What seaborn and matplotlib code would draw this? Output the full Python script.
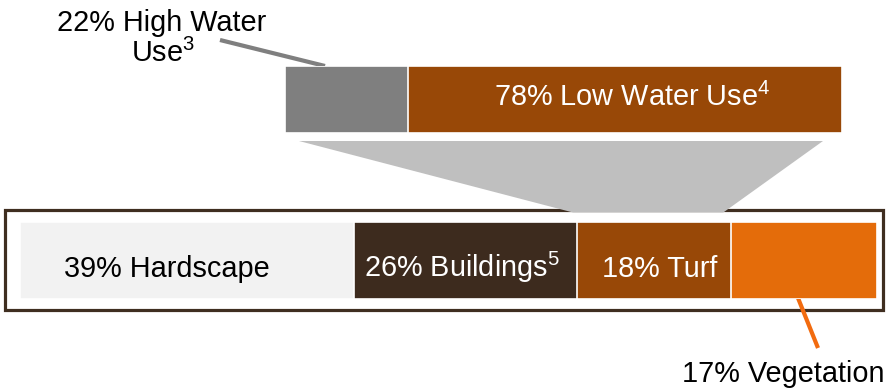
import numpy as np
import pandas as pd
import matplotlib
matplotlib.use("Agg")
import matplotlib.pyplot as plt
from matplotlib.patches import Rectangle, Polygon
import seaborn as sns

# Site surface breakdown (percent of total area)
site_categories = ["Hardscape", "Buildings", "Turf", "Vegetation"]
site_shares = [39, 26, 18, 17]
site_labels = ["39% Hardscape", r"26% Buildings$^{\mathrm{5}}$", "18% Turf", ""]
site_colors = ["#f2f2f2", "#3d2b1e", "#984807", "#e46c0a"]
site_text_colors = ["black", "white", "white", "white"]
site_label_nudge = [-2.4, -0.4, 0.7, 0.0]

# Split of the turf area by water use
turf_categories = ["High Water Use", "Low Water Use"]
turf_shares = [22, 78]
turf_labels = ["", r"78% Low Water Use$^{\mathrm{4}}$"]
turf_colors = ["#7f7f7f", "#984807"]
turf_label_nudge = [0.0, 1.3]

sns.set_theme(style="white")
plt.rcParams["font.family"] = ["Liberation Sans", "DejaVu Sans"]
plt.rcParams["mathtext.fontset"] = "custom"
plt.rcParams["mathtext.rm"] = "Liberation Sans"
plt.rcParams["mathtext.it"] = "Liberation Sans:italic"
plt.rcParams["mathtext.bf"] = "Liberation Sans:bold"

W, H = 886, 388
FS = 20.8
fig = plt.figure(figsize=(W / 100, H / 100), dpi=100)
fig.patch.set_facecolor("white")

# overlay in pixel units for frame, connector and callouts
ov = fig.add_axes([0, 0, 1, 1])
ov.set_xlim(0, W)
ov.set_ylim(H, 0)
ov.axis("off")


def px_axes(left, top, right, bottom):
    return fig.add_axes([left / W, 1 - bottom / H, (right - left) / W, (bottom - top) / H])


def stacked_bar(ax, names, shares, colors):
    ends = np.cumsum(shares)
    df = pd.DataFrame({"segment": names, "end": ends, "row": ["all"] * len(names)})
    sns.barplot(data=df, x="end", y="row", hue="segment", hue_order=names[::-1],
                palette=dict(zip(names, colors)), dodge=False, width=1.0,
                orient="h", legend=False, ax=ax, errorbar=None, saturation=1,
                edgecolor="white", linewidth=1.2)
    ax.set_xlim(0, 100)
    ax.set_ylim(0.5, -0.5)
    ax.axis("off")
    return ends


def bar_labels(ax, shares, ends, labels, colors, nudges, y_frac):
    for share, end, lab, col, nd in zip(shares, ends, labels, colors, nudges):
        if lab:
            ax.text(end - share / 2 + nd, y_frac, lab, transform=ax.get_xaxis_transform(),
                    ha="center", va="baseline", fontsize=FS, color=col)


ax_site = px_axes(20, 222, 877, 299)
site_ends = stacked_bar(ax_site, site_categories, site_shares, site_colors)
bar_labels(ax_site, site_shares, site_ends, site_labels, site_text_colors, site_label_nudge, 0.29)

ax_turf = px_axes(285, 66, 842, 133)
turf_ends = stacked_bar(ax_turf, turf_categories, turf_shares, turf_colors)
bar_labels(ax_turf, turf_shares, turf_ends, turf_labels, ["white", "white"], turf_label_nudge, 0.41)


def to_px(ax, x):
    dx, _ = ax.transData.transform((x, 0))
    return dx


# frame around the site bar
ov.add_patch(Rectangle((5.5, 209.5), 878, 100, fill=False, edgecolor="#3f2e20",
                       linewidth=2.3, zorder=1))

# connector from turf breakdown to the turf segment
turf_start = to_px(ax_site, site_ends[2] - site_shares[2])
turf_end = to_px(ax_site, site_ends[2])
top_l = to_px(ax_turf, 0) + 14
top_r = to_px(ax_turf, 100) - 19
ov.add_patch(Polygon([(top_l, 141), (top_r, 141), (turf_end - 8, 212.5), (turf_start - 4, 212.5)],
                     closed=True, facecolor="#bfbfbf", edgecolor="none", zorder=2))

# callouts
ov.plot([220, 325], [40, 66], color="#7f7f7f", linewidth=3.0, solid_capstyle="butt", zorder=3)
ov.text(162, 31, f"{turf_shares[0]}% High Water", ha="center", va="baseline", fontsize=FS, color="black")
ov.text(163, 61.5, r"Use$^{\mathrm{3}}$", ha="center", va="baseline", fontsize=FS, color="black")

ov.plot([798, 818], [298, 348], color="#f26b0f", linewidth=3.0, solid_capstyle="butt", zorder=3)
ov.text(682, 381.5, f"{site_shares[3]}% Vegetation", ha="left", va="baseline", fontsize=FS, color="black")

fig.savefig("out.png", dpi=100)
